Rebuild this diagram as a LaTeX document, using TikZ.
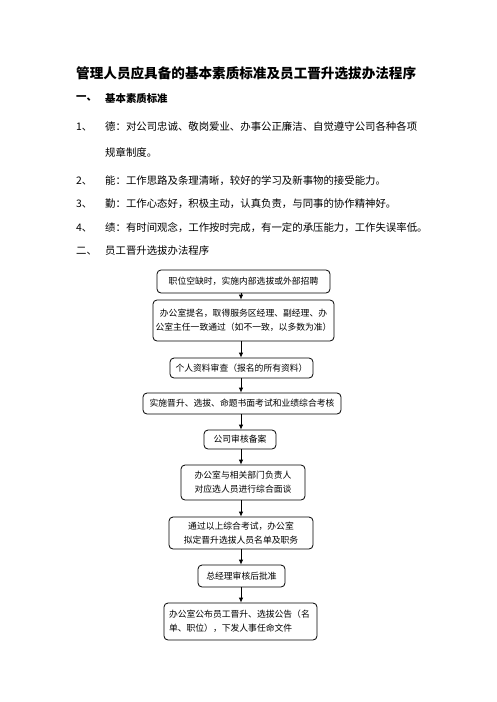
\documentclass[tikz,border=0pt]{standalone}
\usepackage{fontspec}
\setmainfont{Noto Sans CJK SC}
\usetikzlibrary{arrows.meta}
\begin{document}
\begin{tikzpicture}[x=1pt,y=-1pt,
  title/.style={anchor=west,inner sep=0pt,font=\fontsize{13.6}{16}\selectfont\bfseries},
  body/.style={anchor=west,inner sep=0pt,font=\fontsize{10.4}{13}\selectfont},
  bodyb/.style={anchor=west,inner sep=0pt,font=\fontsize{10.4}{13}\selectfont\bfseries},
  box/.style={draw,rounded corners=4pt,line width=0.8pt,inner sep=0pt,align=center,font=\fontsize{8.8}{14}\selectfont},
  arr/.style={line width=0.8pt,-{Latex[length=5pt,width=4.5pt]}}]
\useasboundingbox (0,0) rectangle (496,702);
\fill[white] (0,0) rectangle (496,702);
\node[title] (t) at (76,73) {管理人员应具备的基本素质标准及员工晋升选拔办法程序};
\node[bodyb] (h1n) at (76,98) {一、};
\node[bodyb] (h1) at (105,98) {基本素质标准};
\node[body] (n1) at (76,127) {1、};
\node[body] (l1) at (105,127) {德：对公司忠诚、敬岗爱业、办事公正廉洁、自觉遵守公司各种各项};
\node[body] (l1b) at (105,152) {规章制度。};
\node[body] (n2) at (76,181) {2、};
\node[body] (l2) at (105,181) {能：工作思路及条理清晰，较好的学习及新事物的接受能力。};
\node[body] (n3) at (76,204) {3、};
\node[body] (l3) at (105,204) {勤：工作心态好，积极主动，认真负责，与同事的协作精神好。};
\node[body] (n4) at (76,228) {4、};
\node[body] (l4) at (105,228) {绩：有时间观念，工作按时完成，有一定的承压能力，工作失误率低。};
\node[body] (n5) at (76,251) {二、};
\node[body] (h2) at (105,251) {员工晋升选拔办法程序};

\coordinate (ax) at (241,0);
\node[box,minimum width=173pt,minimum height=23pt] (b1) at (243.5,281.5) {职位空缺时，实施内部选拔或外部招聘};
\node[box,minimum width=181pt,minimum height=41pt] (b2) at (243.5,320.5) {办公室提名，取得服务区经理、副经理、办\\公室主任一致通过（如不一致，以多数为准）};
\node[box,minimum width=143pt,minimum height=20pt] (b3) at (241.5,368) {个人资料审查（报名的所有资料）};
\node[box,minimum width=198pt,minimum height=21pt] (b4) at (242,403.5) {实施晋升、选拔、命题书面考试和业绩综合考核};
\node[box,minimum width=72pt,minimum height=19pt] (b5) at (240,439.5) {公司审核备案};
\node[box,minimum width=124pt,minimum height=35pt] (b6) at (243,482.5) {办公室与相关部门负责人\\对应选人员进行综合面谈};
\node[box,minimum width=144pt,minimum height=32pt] (b7) at (241,533) {通过以上综合考试，办公室\\拟定晋升选拔人员名单及职务};
\node[box,minimum width=87pt,minimum height=22pt] (b8) at (241.5,576) {总经理审核后批准};
\node[box,minimum width=153pt,minimum height=37pt,align=left,text width=143pt] (b9) at (240.5,621.5) {办公室公布员工晋升、选拔公告（名\\单、职位），下发人事任命文件};

\foreach \a/\b in {b1/b2,b2/b3,b3/b4,b4/b5,b5/b6,b6/b7,b7/b8,b8/b9}
  \draw[arr] (\a.south -| ax) -- (\b.north -| ax);
\end{tikzpicture}
\end{document}
